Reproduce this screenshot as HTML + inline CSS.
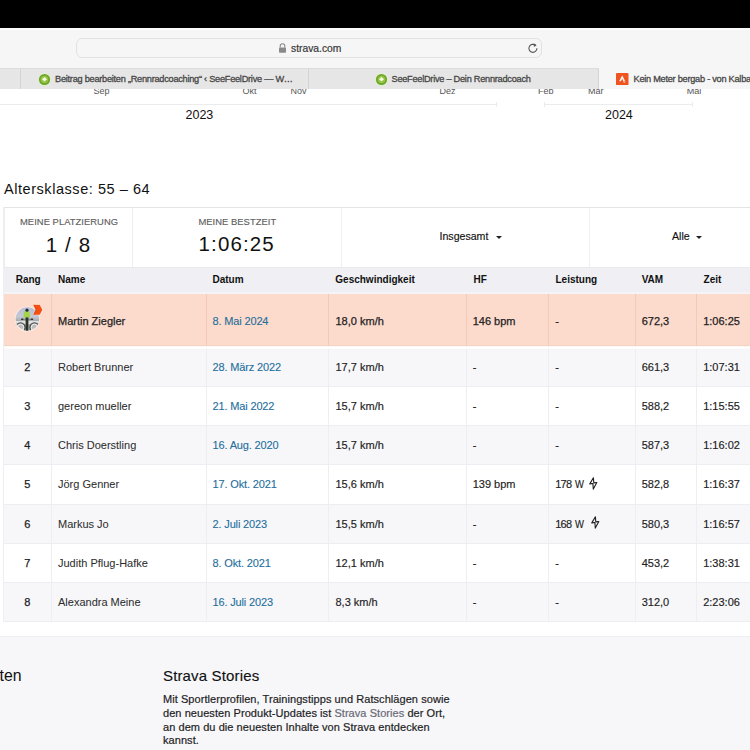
<!DOCTYPE html>
<html><head><meta charset="utf-8">
<style>
*{margin:0;padding:0;box-sizing:border-box}
html,body{width:750px;height:750px;overflow:hidden;background:#fff;font-family:"Liberation Sans",sans-serif;color:#222}
.a{position:absolute}
#black{left:0;top:0;width:750px;height:28px;background:#000}
#toolbar{left:0;top:28px;width:750px;height:40px;background:#f6f6f6;border-top:2px solid #fcfcfc}
#addr{left:76px;top:37.7px;width:466px;height:20.6px;border:1px solid #e2e2e2;border-radius:6px;background:#f6f6f6}
#url{left:291px;top:42px;font-size:10.3px;color:#383838;line-height:14px;-webkit-text-stroke-width:0.2px}
#tabbar{left:0;top:68px;width:750px;height:21px;background:#e6e6e6;border-top:1px solid #dcdcdc}
.sep{top:69px;width:1px;height:20px;background:#d4d4d4}
.tabt{font-size:9.2px;letter-spacing:-0.25px;color:#464646;line-height:12px;white-space:nowrap;-webkit-text-stroke-width:0.3px}
#activetab{left:599px;top:68px;width:151px;height:21px;background:#f6f6f6;border-top:1px solid #f6f6f6}
.mon{font-size:9px;color:#555;line-height:10px;white-space:nowrap}
.axis{height:1px;background:#ececec;top:103.5px}
.yr{font-size:12.5px;color:#111;line-height:14px}
#h2{left:4px;top:180px;font-size:14.5px;letter-spacing:0.55px;color:#111;line-height:18px;white-space:nowrap}
#stats{left:3.5px;top:207px;width:760px;height:60px;border-top:1px solid #e4e4e4;border-left:1px solid #ececec}
.vd{width:1px;background:#efeff2}
.lbl{font-size:9.4px;color:#5f5f5f;letter-spacing:0.05px;white-space:nowrap;line-height:11px;-webkit-text-stroke-width:0.15px}
.big{font-size:20.5px;color:#111;letter-spacing:1.1px;white-space:nowrap;line-height:24px}
.dd{font-size:10.6px;color:#111;white-space:nowrap;line-height:13px;-webkit-text-stroke-width:0.15px}
.tri{width:0;height:0;border-left:3px solid transparent;border-right:3px solid transparent;border-top:3px solid #222}
#thead{left:3.5px;top:267px;width:760px;height:27px;background:#efeff4;border-top:1px solid #e8e8ed;border-bottom:2.5px solid #f4f4f8}
.th{font-size:10px;font-weight:bold;color:#111;white-space:nowrap;line-height:12px;top:274px}
.row{left:3.5px;width:760px;border-bottom:1px solid #eeeef2}
.cd{width:1px;background:#ececf0}
.t{font-size:11px;color:#222;white-space:nowrap;line-height:14px;-webkit-text-stroke-width:0.25px}
.lnk{color:#236e9b;letter-spacing:-0.15px;-webkit-text-stroke-width:0.1px}
.nm{color:#2e2e2e;-webkit-text-stroke-width:0.05px}
.rv{-webkit-text-stroke-width:0.15px}
#footer{left:0;top:636px;width:750px;height:114px;background:#f7f7fa;border-top:1px solid #efeff2}
</style></head><body>
<div class="a" id="black"></div>
<div class="a" id="toolbar"></div>
<div class="a" id="addr"></div>
<svg class="a" style="left:278px;top:43px" width="9" height="10" viewBox="0 0 9 10"><path d="M2.2 4.5V3a2.3 2.3 0 0 1 4.6 0v1.5" fill="none" stroke="#8a8a8a" stroke-width="1.1"/><rect x="1" y="4.5" width="7" height="5.2" rx="0.8" fill="#8a8a8a"/></svg>
<div class="a" id="url">strava.com</div>
<svg class="a" style="left:527px;top:42px" width="12" height="12" viewBox="0 0 12 12"><path d="M8.6 3.4A4 4 0 1 0 9.9 6.2" fill="none" stroke="#555" stroke-width="1.1"/><path d="M6.8 1.2L9.6 3.3 6.9 4.9z" fill="#555"/></svg>
<div class="a" id="tabbar"></div>
<div class="a" id="activetab"></div>
<div class="a sep" style="left:20px"></div>
<div class="a sep" style="left:308px"></div>
<div class="a sep" style="left:598px"></div>
<svg class="a" style="left:38px;top:72.5px" width="13" height="13" viewBox="0 0 13 13"><circle cx="6.5" cy="6.5" r="6.5" fill="#e0f2cc"/><circle cx="6.5" cy="6.5" r="5.6" fill="#6ea52c"/><circle cx="6.5" cy="6.5" r="3.8" fill="#93c447"/><path d="M6.5 4L9 6.3 6.5 8.6 4 6.3z" fill="#f6fbdc"/></svg>
<div class="a tabt" style="left:55px;top:73px">Beitrag bearbeiten „Rennradcoaching“ ‹ SeeFeelDrive — W…</div>
<svg class="a" style="left:375px;top:72.5px" width="13" height="13" viewBox="0 0 13 13"><circle cx="6.5" cy="6.5" r="6.5" fill="#e0f2cc"/><circle cx="6.5" cy="6.5" r="5.6" fill="#6ea52c"/><circle cx="6.5" cy="6.5" r="3.8" fill="#93c447"/><path d="M6.5 4L9 6.3 6.5 8.6 4 6.3z" fill="#f6fbdc"/></svg>
<div class="a tabt" style="left:391.5px;top:73px">SeeFeelDrive – Dein Rennradcoach</div>
<svg class="a" style="left:616.3px;top:72.8px" width="12.5" height="12.2" viewBox="0 0 12.5 12.2"><rect width="12.5" height="12.2" rx="1" fill="#ef5320"/><path d="M3.2 8.2L6.2 2.3 9.2 8.2H7.4L6.2 5.8 5 8.2z" fill="#fff4ee"/><path d="M7.4 8.2l.9 1.8.9-1.8" fill="none" stroke="#f9b69a" stroke-width="0.9"/></svg>
<div class="a tabt" style="left:633.5px;top:73px">Kein Meter bergab - von Kalba</div>

<!-- chart remnants -->
<div class="a" style="left:0;top:89px;width:750px;height:8px;overflow:hidden">
<div class="a mon" style="left:93.4px;top:-3.5px">Sep</div>
<div class="a mon" style="left:242.6px;top:-3.5px">Okt</div>
<div class="a mon" style="left:290.6px;top:-3.5px">Nov</div>
<div class="a mon" style="left:439.6px;top:-3.5px">Dez</div>
<div class="a mon" style="left:538px;top:-3.5px">Feb</div>
<div class="a mon" style="left:588px;top:-3.5px">Mar</div>
<div class="a mon" style="left:686.7px;top:-3.5px">Mai</div>
</div>
<div class="a axis" style="left:0;width:497px"></div>
<div class="a" style="left:496px;top:101.5px;width:1px;height:5px;background:#ececec"></div>
<div class="a axis" style="left:544px;width:149px"></div>
<div class="a" style="left:544px;top:101.5px;width:1px;height:5px;background:#ececec"></div>
<div class="a" style="left:692px;top:101.5px;width:1px;height:5px;background:#ececec"></div>
<div class="a yr" style="left:185.5px;top:107.5px">2023</div>
<div class="a yr" style="left:605px;top:107.5px">2024</div>

<div class="a" id="h2">Altersklasse: 55 – 64</div>

<div class="a" id="stats"></div>
<div class="a vd" style="left:132px;top:208px;height:59px"></div>
<div class="a vd" style="left:340.5px;top:208px;height:59px"></div>
<div class="a vd" style="left:589px;top:208px;height:59px"></div>
<div class="a lbl" style="left:20px;top:216px">MEINE PLATZIERUNG</div>
<div class="a big" style="left:45.8px;top:232.5px">1 / 8</div>
<div class="a lbl" style="left:198.4px;top:216px">MEINE BESTZEIT</div>
<div class="a big" style="left:198.6px;top:231.5px">1:06:25</div>
<div class="a dd" style="left:439.5px;top:230px">Insgesamt</div>
<div class="a tri" style="left:496px;top:235.5px"></div>
<div class="a dd" style="left:672px;top:230px">Alle</div>
<div class="a tri" style="left:695.5px;top:235.5px"></div>

<div class="a" id="thead"></div>
<div class="a th" style="left:15.7px">Rang</div>
<div class="a th" style="left:58px">Name</div>
<div class="a th" style="left:212.5px">Datum</div>
<div class="a th" style="left:335.3px">Geschwindigkeit</div>
<div class="a th" style="left:473.5px">HF</div>
<div class="a th" style="left:555.5px">Leistung</div>
<div class="a th" style="left:641.7px">VAM</div>
<div class="a th" style="left:703.6px">Zeit</div>

<!--ROWS-->
<div class="a" style="left:3.5px;width:760px;top:294px;height:55px;background:linear-gradient(#fcdacc 0,#fcdacc 51px,#f5d2c2 51px,#f5d2c2 52.2px,#fdf6f3 52.2px,#ffffff 53.5px,#fafafc 55px)"></div>
<div class="a cd" style="left:51px;top:294px;height:52px;background:#f3c9b9"></div>
<div class="a cd" style="left:206px;top:294px;height:52px;background:#f3c9b9"></div>
<div class="a cd" style="left:328px;top:294px;height:52px;background:#f3c9b9"></div>
<div class="a cd" style="left:466px;top:294px;height:52px;background:#f3c9b9"></div>
<div class="a cd" style="left:548px;top:294px;height:52px;background:#f3c9b9"></div>
<div class="a cd" style="left:635px;top:294px;height:52px;background:#f3c9b9"></div>
<div class="a cd" style="left:696px;top:294px;height:52px;background:#f3c9b9"></div>
<svg class="a" style="left:15px;top:303px" width="30" height="30" viewBox="0 0 30 30"><defs><clipPath id="cc"><circle cx="12.4" cy="16" r="11.8"/></clipPath><linearGradient id="sky" x1="0" y1="0" x2="0" y2="1"><stop offset="0" stop-color="#b3b8d6"/><stop offset="0.45" stop-color="#c4c8d4"/><stop offset="0.6" stop-color="#a7a9ad"/><stop offset="1" stop-color="#cfcfcf"/></linearGradient></defs><circle cx="12.4" cy="16" r="12.6" fill="#fff" opacity="0.55"/><g clip-path="url(#cc)"><rect x="0" y="0" width="30" height="30" fill="url(#sky)"/><rect x="0" y="18" width="30" height="3" fill="#e2e2e2"/><circle cx="5.5" cy="24.5" r="4.6" fill="none" stroke="#4a4a4a" stroke-width="1.3"/><circle cx="19.5" cy="24.5" r="4.6" fill="none" stroke="#4a4a4a" stroke-width="1.3"/><circle cx="5.5" cy="24.5" r="3.2" fill="none" stroke="#f0f0f0" stroke-width="1"/><circle cx="19.5" cy="24.5" r="3.2" fill="none" stroke="#f0f0f0" stroke-width="1"/><rect x="6" y="15.6" width="2.6" height="1.5" rx="0.7" fill="#333"/><rect x="15.6" y="15.6" width="2.6" height="1.5" rx="0.7" fill="#333"/><rect x="8" y="15.9" width="8" height="0.8" fill="#777"/><path d="M9 8.6h5.6l0.6 6H8.4z" fill="#a4d34a"/><circle cx="12" cy="7.2" r="1.6" fill="#263126"/><rect x="10.6" y="14.4" width="2.8" height="14" fill="#2a3326"/></g><path d="M17.8 1.3h7.2l3 5.4-3 5.4h-7.2l2.7-5.4z" fill="#fff" opacity="0.7"/><path d="M18.3 1.8h6.4l2.7 4.9-2.7 5h-6.4l2.4-5z" fill="#f45014"/><path d="M20.7 6.7l-2.4-4.9h1.2l2.4 4.9-2.4 5h-1.2z" fill="#d8400c" opacity="0.6"/></svg>
<div class="a t" style="left:58px;top:313.50px">Martin Ziegler</div>
<div class="a t lnk" style="left:212.5px;top:313.50px">8. Mai 2024</div>
<div class="a t" style="left:335.5px;top:313.50px">18,0 km/h</div>
<div class="a t" style="left:472.7px;top:313.50px">146 bpm</div>
<div class="a t" style="left:555.2px;top:313.50px">-</div>
<div class="a t" style="left:641.7px;top:313.50px">672,3</div>
<div class="a t" style="left:703.2px;top:313.50px">1:06:25</div>
<div class="a row" style="top:349.00px;height:38.14px;background:#f7f7fa"></div>
<div class="a cd" style="left:51px;top:349.00px;height:38.14px;background:#eeeef1"></div>
<div class="a cd" style="left:206px;top:349.00px;height:38.14px;background:#eeeef1"></div>
<div class="a cd" style="left:328px;top:349.00px;height:38.14px;background:#eeeef1"></div>
<div class="a cd" style="left:466px;top:349.00px;height:38.14px;background:#eeeef1"></div>
<div class="a cd" style="left:548px;top:349.00px;height:38.14px;background:#eeeef1"></div>
<div class="a cd" style="left:635px;top:349.00px;height:38.14px;background:#eeeef1"></div>
<div class="a cd" style="left:696px;top:349.00px;height:38.14px;background:#eeeef1"></div>
<div class="a t" style="left:3.5px;width:47.5px;text-align:center;top:360.07px">2</div>
<div class="a t nm" style="left:58px;top:360.07px">Robert Brunner</div>
<div class="a t lnk" style="left:212.5px;top:360.07px">28. März 2022</div>
<div class="a t rv" style="left:335.5px;top:360.07px">17,7 km/h</div>
<div class="a t rv" style="left:472.7px;top:360.07px">-</div>
<div class="a t rv" style="left:555.2px;top:360.07px">-</div>
<div class="a t rv" style="left:641.7px;top:360.07px">661,3</div>
<div class="a t rv" style="left:703.2px;top:360.07px">1:07:31</div>
<div class="a row" style="top:387.14px;height:39.14px;background:#ffffff"></div>
<div class="a cd" style="left:51px;top:387.14px;height:39.14px;background:#eeeef1"></div>
<div class="a cd" style="left:206px;top:387.14px;height:39.14px;background:#eeeef1"></div>
<div class="a cd" style="left:328px;top:387.14px;height:39.14px;background:#eeeef1"></div>
<div class="a cd" style="left:466px;top:387.14px;height:39.14px;background:#eeeef1"></div>
<div class="a cd" style="left:548px;top:387.14px;height:39.14px;background:#eeeef1"></div>
<div class="a cd" style="left:635px;top:387.14px;height:39.14px;background:#eeeef1"></div>
<div class="a cd" style="left:696px;top:387.14px;height:39.14px;background:#eeeef1"></div>
<div class="a t" style="left:3.5px;width:47.5px;text-align:center;top:399.21px">3</div>
<div class="a t nm" style="left:58px;top:399.21px">gereon mueller</div>
<div class="a t lnk" style="left:212.5px;top:399.21px">21. Mai 2022</div>
<div class="a t rv" style="left:335.5px;top:399.21px">15,7 km/h</div>
<div class="a t rv" style="left:472.7px;top:399.21px">-</div>
<div class="a t rv" style="left:555.2px;top:399.21px">-</div>
<div class="a t rv" style="left:641.7px;top:399.21px">588,2</div>
<div class="a t rv" style="left:703.2px;top:399.21px">1:15:55</div>
<div class="a row" style="top:426.28px;height:39.14px;background:#f7f7fa"></div>
<div class="a cd" style="left:51px;top:426.28px;height:39.14px;background:#eeeef1"></div>
<div class="a cd" style="left:206px;top:426.28px;height:39.14px;background:#eeeef1"></div>
<div class="a cd" style="left:328px;top:426.28px;height:39.14px;background:#eeeef1"></div>
<div class="a cd" style="left:466px;top:426.28px;height:39.14px;background:#eeeef1"></div>
<div class="a cd" style="left:548px;top:426.28px;height:39.14px;background:#eeeef1"></div>
<div class="a cd" style="left:635px;top:426.28px;height:39.14px;background:#eeeef1"></div>
<div class="a cd" style="left:696px;top:426.28px;height:39.14px;background:#eeeef1"></div>
<div class="a t" style="left:3.5px;width:47.5px;text-align:center;top:438.35px">4</div>
<div class="a t nm" style="left:58px;top:438.35px">Chris Doerstling</div>
<div class="a t lnk" style="left:212.5px;top:438.35px">16. Aug. 2020</div>
<div class="a t rv" style="left:335.5px;top:438.35px">15,7 km/h</div>
<div class="a t rv" style="left:472.7px;top:438.35px">-</div>
<div class="a t rv" style="left:555.2px;top:438.35px">-</div>
<div class="a t rv" style="left:641.7px;top:438.35px">587,3</div>
<div class="a t rv" style="left:703.2px;top:438.35px">1:16:02</div>
<div class="a row" style="top:465.42px;height:39.14px;background:#ffffff"></div>
<div class="a cd" style="left:51px;top:465.42px;height:39.14px;background:#eeeef1"></div>
<div class="a cd" style="left:206px;top:465.42px;height:39.14px;background:#eeeef1"></div>
<div class="a cd" style="left:328px;top:465.42px;height:39.14px;background:#eeeef1"></div>
<div class="a cd" style="left:466px;top:465.42px;height:39.14px;background:#eeeef1"></div>
<div class="a cd" style="left:548px;top:465.42px;height:39.14px;background:#eeeef1"></div>
<div class="a cd" style="left:635px;top:465.42px;height:39.14px;background:#eeeef1"></div>
<div class="a cd" style="left:696px;top:465.42px;height:39.14px;background:#eeeef1"></div>
<div class="a t" style="left:3.5px;width:47.5px;text-align:center;top:477.49px">5</div>
<div class="a t nm" style="left:58px;top:477.49px">Jörg Genner</div>
<div class="a t lnk" style="left:212.5px;top:477.49px">17. Okt. 2021</div>
<div class="a t rv" style="left:335.5px;top:477.49px">15,6 km/h</div>
<div class="a t rv" style="left:472.7px;top:477.49px">139 bpm</div>
<div class="a t rv" style="left:555.2px;top:477.49px"><span style="letter-spacing:-0.7px">17</span>8 <span style="display:inline-block;transform:scaleX(.86);transform-origin:0 50%">W</span></div>
<svg class="a" style="left:588.6px;top:477.19px" width="9" height="14" viewBox="0 0 9 14"><path d="M4.4 0.7L0.8 6.9 3.9 6.5 4.3 12.1 7.8 5.5 4.8 5.9z" fill="none" stroke="#1e1e1e" stroke-width="1.1" stroke-linejoin="round"/></svg>
<div class="a t rv" style="left:641.7px;top:477.49px">582,8</div>
<div class="a t rv" style="left:703.2px;top:477.49px">1:16:37</div>
<div class="a row" style="top:504.56px;height:39.14px;background:#f7f7fa"></div>
<div class="a cd" style="left:51px;top:504.56px;height:39.14px;background:#eeeef1"></div>
<div class="a cd" style="left:206px;top:504.56px;height:39.14px;background:#eeeef1"></div>
<div class="a cd" style="left:328px;top:504.56px;height:39.14px;background:#eeeef1"></div>
<div class="a cd" style="left:466px;top:504.56px;height:39.14px;background:#eeeef1"></div>
<div class="a cd" style="left:548px;top:504.56px;height:39.14px;background:#eeeef1"></div>
<div class="a cd" style="left:635px;top:504.56px;height:39.14px;background:#eeeef1"></div>
<div class="a cd" style="left:696px;top:504.56px;height:39.14px;background:#eeeef1"></div>
<div class="a t" style="left:3.5px;width:47.5px;text-align:center;top:516.63px">6</div>
<div class="a t nm" style="left:58px;top:516.63px">Markus Jo</div>
<div class="a t lnk" style="left:212.5px;top:516.63px">2. Juli 2023</div>
<div class="a t rv" style="left:335.5px;top:516.63px">15,5 km/h</div>
<div class="a t rv" style="left:472.7px;top:516.63px">-</div>
<div class="a t rv" style="left:555.2px;top:516.63px"><span style="letter-spacing:-0.7px">16</span>8 <span style="display:inline-block;transform:scaleX(.86);transform-origin:0 50%">W</span></div>
<svg class="a" style="left:590.5px;top:516.33px" width="9" height="14" viewBox="0 0 9 14"><path d="M4.4 0.7L0.8 6.9 3.9 6.5 4.3 12.1 7.8 5.5 4.8 5.9z" fill="none" stroke="#1e1e1e" stroke-width="1.1" stroke-linejoin="round"/></svg>
<div class="a t rv" style="left:641.7px;top:516.63px">580,3</div>
<div class="a t rv" style="left:703.2px;top:516.63px">1:16:57</div>
<div class="a row" style="top:543.70px;height:39.14px;background:#ffffff"></div>
<div class="a cd" style="left:51px;top:543.70px;height:39.14px;background:#eeeef1"></div>
<div class="a cd" style="left:206px;top:543.70px;height:39.14px;background:#eeeef1"></div>
<div class="a cd" style="left:328px;top:543.70px;height:39.14px;background:#eeeef1"></div>
<div class="a cd" style="left:466px;top:543.70px;height:39.14px;background:#eeeef1"></div>
<div class="a cd" style="left:548px;top:543.70px;height:39.14px;background:#eeeef1"></div>
<div class="a cd" style="left:635px;top:543.70px;height:39.14px;background:#eeeef1"></div>
<div class="a cd" style="left:696px;top:543.70px;height:39.14px;background:#eeeef1"></div>
<div class="a t" style="left:3.5px;width:47.5px;text-align:center;top:555.77px">7</div>
<div class="a t nm" style="left:58px;top:555.77px">Judith Pflug-Hafke</div>
<div class="a t lnk" style="left:212.5px;top:555.77px">8. Okt. 2021</div>
<div class="a t rv" style="left:335.5px;top:555.77px">12,1 km/h</div>
<div class="a t rv" style="left:472.7px;top:555.77px">-</div>
<div class="a t rv" style="left:555.2px;top:555.77px">-</div>
<div class="a t rv" style="left:641.7px;top:555.77px">453,2</div>
<div class="a t rv" style="left:703.2px;top:555.77px">1:38:31</div>
<div class="a row" style="top:582.84px;height:39.14px;background:#f7f7fa"></div>
<div class="a cd" style="left:51px;top:582.84px;height:39.14px;background:#eeeef1"></div>
<div class="a cd" style="left:206px;top:582.84px;height:39.14px;background:#eeeef1"></div>
<div class="a cd" style="left:328px;top:582.84px;height:39.14px;background:#eeeef1"></div>
<div class="a cd" style="left:466px;top:582.84px;height:39.14px;background:#eeeef1"></div>
<div class="a cd" style="left:548px;top:582.84px;height:39.14px;background:#eeeef1"></div>
<div class="a cd" style="left:635px;top:582.84px;height:39.14px;background:#eeeef1"></div>
<div class="a cd" style="left:696px;top:582.84px;height:39.14px;background:#eeeef1"></div>
<div class="a t" style="left:3.5px;width:47.5px;text-align:center;top:594.91px">8</div>
<div class="a t nm" style="left:58px;top:594.91px">Alexandra Meine</div>
<div class="a t lnk" style="left:212.5px;top:594.91px">16. Juli 2023</div>
<div class="a t rv" style="left:335.5px;top:594.91px">8,3 km/h</div>
<div class="a t rv" style="left:472.7px;top:594.91px">-</div>
<div class="a t rv" style="left:555.2px;top:594.91px">-</div>
<div class="a t rv" style="left:641.7px;top:594.91px">312,0</div>
<div class="a t rv" style="left:703.2px;top:594.91px">2:23:06</div>
<!--/ROWS-->

<div class="a" style="left:3px;top:207px;width:1px;height:415px;background:#efeff2"></div>
<div class="a" id="footer"></div>
<div class="a" style="left:-0.4px;top:666.7px;font-size:15.8px;color:#111;line-height:18px">ten</div>
<div class="a" style="left:163px;top:666.7px;font-size:15px;color:#111;line-height:18px;letter-spacing:0.15px;white-space:nowrap;-webkit-text-stroke-width:0.15px">Strava Stories</div>
<div class="a" style="left:163px;top:693.3px;width:300px;font-size:11px;color:#1e1e1e;line-height:13.7px;letter-spacing:0.06px;-webkit-text-stroke-width:0.2px">
Mit Sportlerprofilen, Trainingstipps und Ratschlägen sowie<br>den neuesten Produkt-Updates ist <span style="color:#6a6a75">Strava Stories</span> der Ort,<br>an dem du die neuesten Inhalte von Strava entdecken<br>kannst.</div>
</body></html>
